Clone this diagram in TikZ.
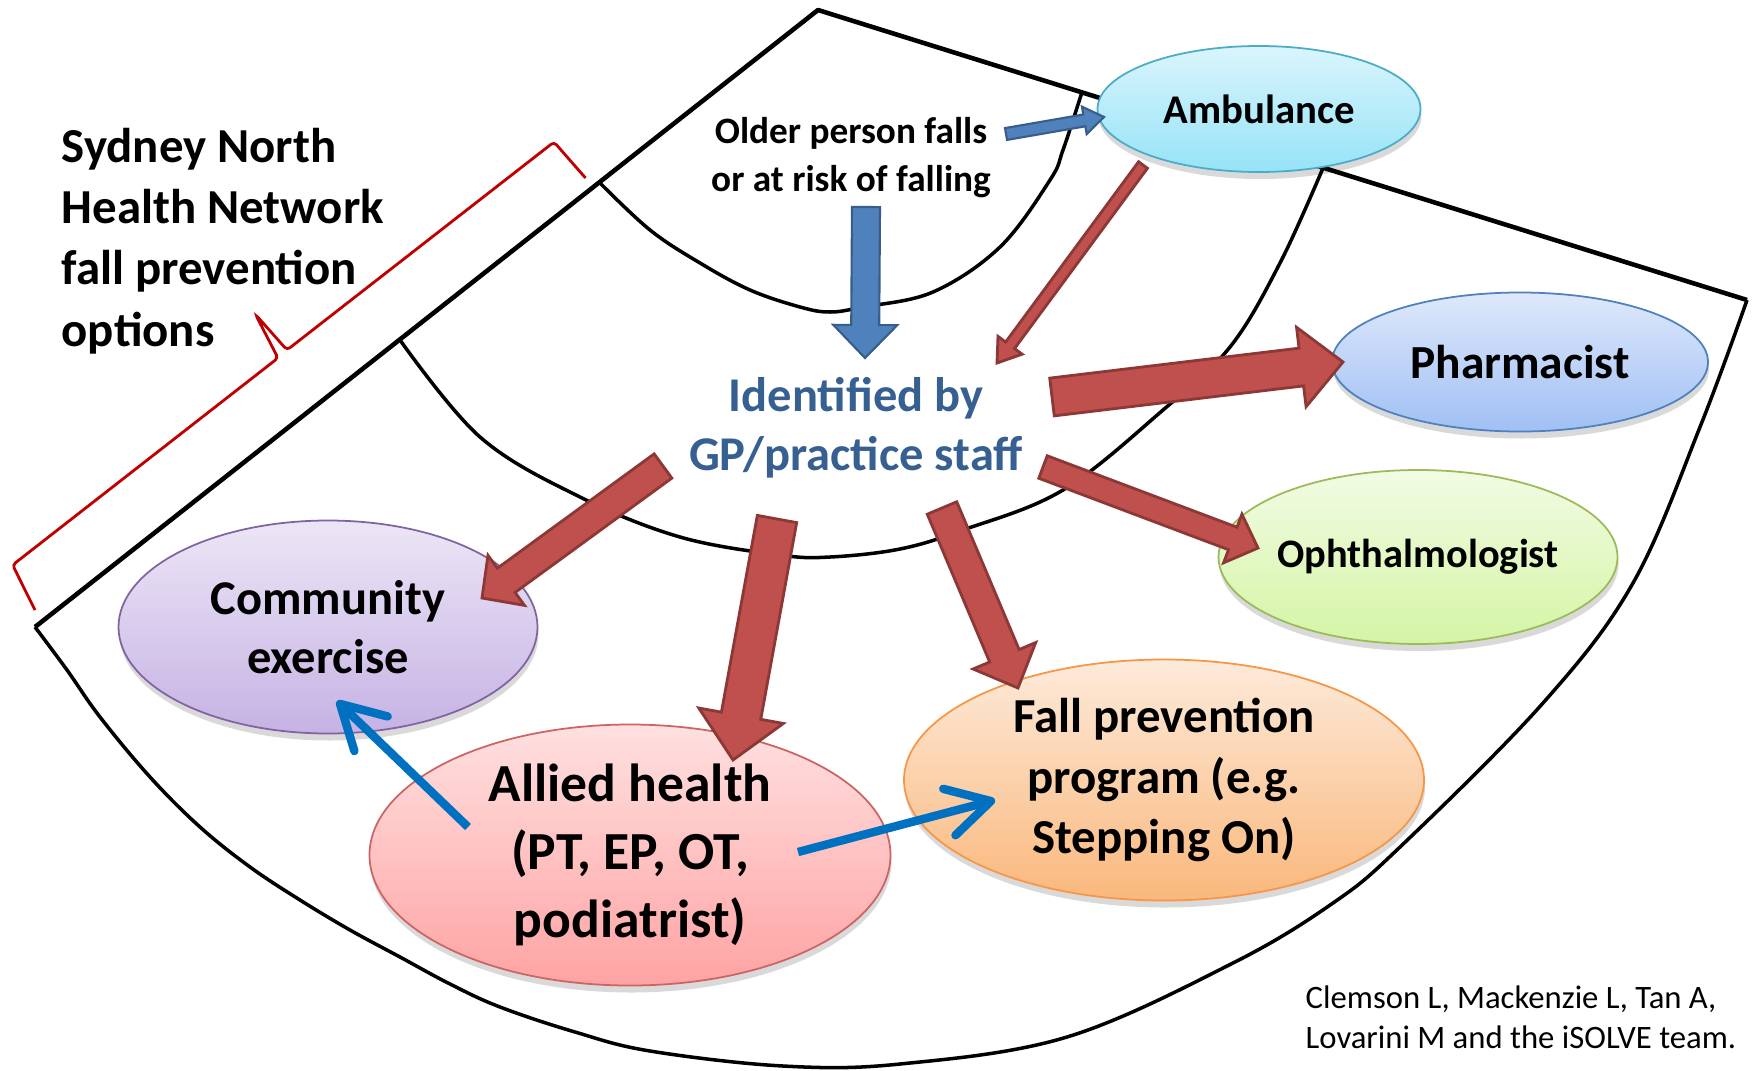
\documentclass[tikz,border=0pt]{standalone}
\usepackage{fontspec}
\setmainfont{Carlito}
\usetikzlibrary{calc,shapes.geometric,shadows,arrows.meta,positioning}

\definecolor{secred}{RGB}{192,80,77}
\definecolor{secredline}{RGB}{140,56,54}
\definecolor{secblue}{RGB}{79,129,189}
\definecolor{secblueline}{RGB}{56,93,138}
\definecolor{linkblue}{RGB}{0,112,192}
\definecolor{gptext}{RGB}{55,96,146}
\definecolor{bracered}{RGB}{192,0,0}
\definecolor{ambline}{RGB}{75,172,198}\definecolor{ambtop}{RGB}{218,245,252}\definecolor{ambbot}{RGB}{150,227,247}
\definecolor{phline}{RGB}{79,129,189}\definecolor{phtop}{RGB}{222,232,251}\definecolor{phbot}{RGB}{160,192,244}
\definecolor{opline}{RGB}{155,187,89}\definecolor{optop}{RGB}{242,251,228}\definecolor{opbot}{RGB}{212,245,165}
\definecolor{coline}{RGB}{128,100,162}\definecolor{cotop}{RGB}{236,230,246}\definecolor{cobot}{RGB}{198,178,228}
\definecolor{alline}{RGB}{205,100,100}\definecolor{altop}{RGB}{255,224,224}\definecolor{albot}{RGB}{255,163,163}
\definecolor{faline}{RGB}{247,150,70}\definecolor{fatop}{RGB}{253,234,218}\definecolor{fabot}{RGB}{250,184,124}

% #1 style, #2 tail, #3 tip, #4 half shaft, #5 half head, #6 head length
\newcommand{\blockarrow}[6]{%
	\coordinate (ba-h) at ($(#3)!#6!(#2)$);
	\filldraw[#1] ($(#2)!#4!90:(#3)$) -- ($(ba-h)!#4!90:(#3)$) -- ($(ba-h)!#5!90:(#3)$) -- (#3)
		-- ($(ba-h)!#5!-90:(#3)$) -- ($(ba-h)!#4!-90:(#3)$) -- ($(#2)!#4!-90:(#3)$) -- cycle;}

\begin{document}
\begin{tikzpicture}[x=0.1mm, y=-0.1mm,
	edge/.style={line width=1.3pt, line join=round},
	ring/.style={line width=1pt},
	bubble/.style n args={3}{ellipse, draw=#1, line width=0.5pt, top color=#2, bottom color=#3,
		inner sep=0pt, align=center,
		drop shadow={shadow xshift=0.1mm, shadow yshift=-0.7mm, opacity=0.15, fill=black}},
	redbar/.style={fill=secred, draw=secredline, line width=0.8pt},
	bluebar/.style={fill=secblue, draw=secblueline, line width=0.6pt},
	link/.style={draw=linkblue, line width=2.4pt, -{Straight Barb[length=4.3mm,width=4.8mm,round]}},
	brace/.style={draw=bracered, line width=0.8pt, rounded corners=1pt}]
\fill[white] (0,0) rectangle (1754,1070);
\useasboundingbox (0,0) rectangle (1754,1070);

% fan
\coordinate (apex) at (818,10);
\coordinate (lcorner) at (35,627);
\coordinate (rcorner) at (1747,300);
\draw[ring] plot[smooth, tension=0.6] coordinates {(35,627) (67,670) (100,717) (150,777) (200,827)
	(250,867) (300,900) (350,930) (400,957) (450,984) (500,1007) (575,1032) (650,1051) (783,1066)
	(900,1064) (1067,1037) (1233,963) (1333,903) (1400,847) (1543,703) (1633,583) (1700,427) (1747,300)};
\draw[ring] plot[smooth, tension=0.6] coordinates {(400,340) (480,437) (580,497) (680,537) (780,555)
	(830,557) (900,549) (963,530) (1063,490) (1163,410) (1230,347) (1280,263) (1323,168)};
\draw[ring] plot[smooth, tension=0.6] coordinates {(600,183) (650,230) (700,263) (750,290) (800,307)
	(830,312) (863,307) (933,292) (1000,247) (1050,180) (1063,150) (1082,92)};
\draw[edge] (lcorner) -- (apex) -- (rcorner);

\draw[brace] (35,610) -- (12.6,565) -- (278,358) -- (255.5,314.5) -- (287,350) -- (554,142) -- (585.5,178);

\node[font=\bfseries\fontsize{13.9}{17.4}\selectfont, align=left, anchor=west, inner sep=0pt] (sydney) at (61,241)
	{Sydney North\\Health Network\\fall prevention\\options};
\node[font=\bfseries\fontsize{10.6}{13.7}\selectfont, align=center] (older) at (851,158)
	{Older person falls\\or at risk of falling};
\node[font=\bfseries\fontsize{13.8}{16.8}\selectfont, text=gptext, align=center] (ident) at (856,428)
	{Identified by\\GP/practice staff};

\node[bubble={ambline}{ambtop}{ambbot}, minimum width=32.3mm, minimum height=12.6mm,
	font=\bfseries\fontsize{11.6}{14}\selectfont] (amb) at (1259,109) {Ambulance};
\node[bubble={phline}{phtop}{phbot}, minimum width=37.6mm, minimum height=13.9mm,
	font=\bfseries\fontsize{13.5}{16}\selectfont] (pharm) at (1520,362) {Pharmacist};
\node[bubble={opline}{optop}{opbot}, minimum width=39.9mm, minimum height=17.4mm,
	font=\bfseries\fontsize{11.5}{14}\selectfont] (oph) at (1418,557) {Ophthalmologist};
\node[bubble={coline}{cotop}{cobot}, minimum width=41.9mm, minimum height=21.3mm,
	font=\bfseries\fontsize{13.8}{16.8}\selectfont] (comm) at (328,627) {Community\\exercise};
\node[bubble={alline}{altop}{albot}, minimum width=52.1mm, minimum height=26.1mm,
	font=\bfseries\fontsize{15.25}{19.4}\selectfont] (allied) at (630,855) {Allied health\\(PT, EP, OT,\\podiatrist)};
\node[bubble={faline}{fatop}{fabot}, minimum width=52mm, minimum height=24.1mm,
	font=\bfseries\fontsize{13.9}{17.1}\selectfont] (fall) at (1164,780) {Fall prevention\\program (e.g.\\Stepping On)};

\node[font=\fontsize{9.3}{11.4}\selectfont, align=left, anchor=west, inner sep=0pt] (credit) at (1305,1017)
	{Clemson L, Mackenzie L, Tan A,\\Lovarini M and the iSOLVE team.};

% arrow ends
\coordinate (older-s) at (866,207);  \coordinate (ident-n) at (865,358);
\coordinate (older-e) at (1006,134); \coordinate (amb-w) at (1104,117);
\coordinate (amb-sw) at (1143,165);  \coordinate (ident-ne) at (997,363);
\coordinate (ident-e) at (1052,397); \coordinate (pharm-w) at (1343,362);
\coordinate (ident-se) at (1043,467); \coordinate (oph-w) at (1258,548);
\coordinate (ident-w) at (663,466);  \coordinate (comm-e) at (482,598);
\coordinate (ident-s) at (777,519);  \coordinate (allied-n) at (733,760);
\coordinate (ident-sse) at (942,508); \coordinate (fall-n) at (1018,688);
\coordinate (allied-w) at (468,827); \coordinate (comm-s) at (337,701);
\coordinate (allied-e) at (798,852); \coordinate (fall-w) at (995,800);

\blockarrow{bluebar}{older-s}{ident-n}{1.4mm}{3.2mm}{3.3mm}
\blockarrow{bluebar}{older-e}{amb-w}{0.6mm}{1.4mm}{2mm}
\blockarrow{redbar}{amb-sw}{ident-ne}{0.55mm}{1.5mm}{2.2mm}
\blockarrow{redbar}{ident-e}{pharm-w}{1.9mm}{4mm}{4.2mm}
\blockarrow{redbar}{ident-se}{oph-w}{1.2mm}{2.6mm}{2.7mm}
\blockarrow{redbar}{ident-w}{comm-e}{1.5mm}{3.1mm}{3mm}
\blockarrow{redbar}{ident-s}{allied-n}{2mm}{4.3mm}{4.5mm}
\blockarrow{redbar}{ident-sse}{fall-n}{1.6mm}{3.4mm}{3.5mm}

\draw[link] (allied-w) -- (comm-s);
\draw[link] (allied-e) -- (fall-w);
\end{tikzpicture}
\end{document}
